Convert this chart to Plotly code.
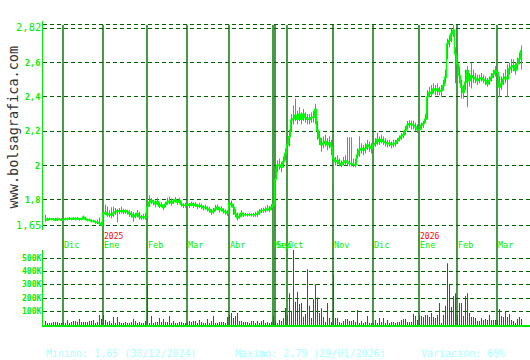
import plotly.graph_objects as go

# ---------------- data ----------------
# one value per trading day, Nov-2024 ... Mar-2026 (May..Sep 2025 gap)
close = [
    # Nov 2024
    1.688, 1.682, 1.688, 1.688, 1.686, 1.682, 1.688, 1.686, 1.682,
    # Dec 2024
    1.684, 1.688, 1.688, 1.692, 1.688, 1.692, 1.688, 1.692, 1.686, 1.688,
    1.698, 1.688, 1.682, 1.682, 1.676, 1.676, 1.670, 1.668, 1.662, 1.652,
    # Jan 2025
    1.720, 1.726, 1.712, 1.716, 1.710, 1.722, 1.730, 1.736, 1.732, 1.736, 1.730,
    1.736, 1.730, 1.720, 1.714, 1.700, 1.710, 1.720, 1.702, 1.696, 1.700, 1.696,
    # Feb 2025
    1.760, 1.786, 1.796, 1.786, 1.776, 1.790, 1.763, 1.770, 1.755, 1.775,
    1.786, 1.792, 1.780, 1.792, 1.800, 1.786, 1.796, 1.773, 1.767, 1.767,
    # Mar 2025
    1.773, 1.767, 1.777, 1.767, 1.773, 1.761, 1.767, 1.761, 1.753, 1.757, 1.747,
    1.742, 1.728, 1.734, 1.747, 1.757, 1.742, 1.747, 1.734, 1.728, 1.722,
    # Apr 2025
    1.780, 1.773, 1.757, 1.718, 1.695, 1.703, 1.722, 1.712, 1.714, 1.712, 1.714,
    1.712, 1.712, 1.714, 1.718, 1.728, 1.738, 1.738, 1.742, 1.747, 1.742, 1.757,
    # May 2025
    1.770,
    # Sep 2025
    1.920, 2.000, 2.004, 1.990, 2.023, 2.070,
    # Oct 2025
    2.120, 2.168, 2.265, 2.274, 2.294, 2.270, 2.300, 2.270, 2.300, 2.280, 2.270, 2.268,
    2.280, 2.282, 2.327, 2.207, 2.160, 2.120, 2.130, 2.140, 2.120, 2.133, 2.110,
    # Nov 2025
    2.040, 2.023, 2.030, 2.013, 2.004, 2.017, 2.027, 2.020, 2.013, 2.010,
    2.004, 2.004, 2.062, 2.090, 2.100, 2.090, 2.100, 2.120, 2.110, 2.100,
    # Dec 2025
    2.120, 2.130, 2.153, 2.140, 2.153, 2.140, 2.133, 2.126, 2.130, 2.120, 2.126, 2.130,
    2.145, 2.158, 2.172, 2.178, 2.207, 2.236, 2.245, 2.240, 2.236, 2.226, 2.210,
    # Jan 2026
    2.210, 2.236, 2.245, 2.270, 2.400, 2.427, 2.420, 2.447, 2.437, 2.447,
    2.433, 2.437, 2.466, 2.515, 2.710, 2.730, 2.770, 2.790, 2.650,
    # Feb 2026
    2.593, 2.525, 2.457, 2.427, 2.486, 2.554, 2.496, 2.525, 2.515, 2.505,
    2.496, 2.505, 2.511, 2.500, 2.496, 2.476, 2.496, 2.515, 2.535, 2.554,
    # Mar 2026
    2.544, 2.457, 2.476, 2.505, 2.515, 2.505, 2.564, 2.574, 2.583, 2.554, 2.593, 2.622, 2.671,
]

high = [
    1.712, 1.696, 1.696, 1.694, 1.694, 1.694, 1.696, 1.694, 1.694,
    1.692, 1.696, 1.696, 1.700, 1.696, 1.700, 1.698, 1.700, 1.694, 1.694,
    1.708, 1.700, 1.690, 1.690, 1.686, 1.684, 1.680, 1.684, 1.696, 1.672,
    1.746, 1.772, 1.762, 1.740, 1.756, 1.760, 1.752, 1.746, 1.752, 1.760, 1.748,
    1.744, 1.742, 1.738, 1.734, 1.728, 1.724, 1.740, 1.730, 1.712, 1.718, 1.724,
    2.000, 1.826, 1.810, 1.800, 1.796, 1.812, 1.784, 1.786, 1.772, 1.788,
    1.812, 1.818, 1.808, 1.804, 1.816, 1.800, 1.812, 1.790, 1.780, 1.782,
    1.790, 1.782, 1.790, 1.784, 1.786, 1.776, 1.782, 1.778, 1.768, 1.772, 1.762,
    1.758, 1.746, 1.752, 1.770, 1.772, 1.758, 1.762, 1.750, 1.744, 1.740,
    1.830, 1.796, 1.776, 1.746, 1.726, 1.720, 1.740, 1.726, 1.724, 1.722, 1.722,
    1.722, 1.724, 1.730, 1.736, 1.746, 1.752, 1.754, 1.760, 1.770, 1.764, 1.776,
    1.790,
    1.930, 2.030, 2.040, 2.020, 2.053, 2.100,
    2.150, 2.210, 2.300, 2.350, 2.390, 2.320, 2.340, 2.310, 2.330, 2.310, 2.300, 2.300,
    2.310, 2.320, 2.360, 2.260, 2.200, 2.160, 2.170, 2.180, 2.160, 2.170, 2.150,
    2.110, 2.050, 2.060, 2.040, 2.030, 2.050, 2.060, 2.165, 2.165, 2.165,
    2.040, 2.040, 2.100, 2.170, 2.130, 2.120, 2.130, 2.150, 2.140, 2.130,
    2.150, 2.160, 2.190, 2.170, 2.180, 2.170, 2.160, 2.150, 2.150, 2.140, 2.150, 2.150,
    2.160, 2.175, 2.190, 2.200, 2.230, 2.260, 2.265, 2.262, 2.262, 2.250, 2.240,
    2.230, 2.250, 2.260, 2.300, 2.440, 2.460, 2.470, 2.480, 2.470, 2.480,
    2.460, 2.470, 2.500, 2.560, 2.740, 2.760, 2.800, 2.820, 2.690,
    2.640, 2.580, 2.500, 2.470, 2.560, 2.580, 2.540, 2.600, 2.560, 2.540,
    2.530, 2.530, 2.540, 2.530, 2.520, 2.510, 2.520, 2.540, 2.560, 2.580,
    2.570, 2.520, 2.520, 2.540, 2.560, 2.590, 2.600, 2.620, 2.620, 2.600, 2.630, 2.660, 2.700,
]

low = [
    1.672, 1.676, 1.680, 1.680, 1.678, 1.676, 1.676, 1.680, 1.676,
    1.676, 1.680, 1.680, 1.682, 1.680, 1.682, 1.680, 1.684, 1.678, 1.680,
    1.684, 1.680, 1.674, 1.674, 1.668, 1.668, 1.660, 1.658, 1.655, 1.650,
    1.700, 1.712, 1.700, 1.698, 1.692, 1.700, 1.712, 1.668, 1.716, 1.720, 1.716,
    1.718, 1.714, 1.700, 1.696, 1.672, 1.692, 1.698, 1.684, 1.684, 1.686, 1.684,
    1.700, 1.760, 1.776, 1.768, 1.756, 1.768, 1.752, 1.756, 1.740, 1.758,
    1.770, 1.774, 1.766, 1.776, 1.784, 1.770, 1.778, 1.760, 1.752, 1.754,
    1.760, 1.752, 1.762, 1.752, 1.758, 1.746, 1.752, 1.746, 1.738, 1.742, 1.732,
    1.726, 1.712, 1.718, 1.732, 1.740, 1.726, 1.732, 1.720, 1.712, 1.706,
    1.740, 1.756, 1.712, 1.700, 1.680, 1.690, 1.700, 1.700, 1.704, 1.702, 1.704,
    1.702, 1.700, 1.700, 1.700, 1.712, 1.722, 1.724, 1.726, 1.732, 1.728, 1.740,
    1.600,
    1.760, 1.960, 1.975, 1.960, 1.990, 2.030,
    2.090, 2.110, 2.200, 2.240, 2.260, 2.240, 2.260, 2.240, 2.260, 2.250, 2.240, 2.240,
    2.250, 2.250, 2.240, 2.150, 2.120, 2.080, 2.100, 2.110, 2.090, 2.100, 2.060,
    1.890, 2.000, 2.005, 1.995, 1.990, 2.000, 2.005, 2.000, 1.995, 1.995,
    1.990, 1.990, 2.040, 2.050, 2.070, 2.060, 2.070, 2.090, 2.080, 2.070,
    2.100, 2.110, 2.120, 2.120, 2.130, 2.120, 2.110, 2.105, 2.110, 2.100, 2.105, 2.110,
    2.125, 2.140, 2.150, 2.160, 2.180, 2.210, 2.220, 2.210, 2.210, 2.200, 2.190,
    2.190, 2.210, 2.220, 2.250, 2.270, 2.400, 2.400, 2.420, 2.410, 2.410,
    2.410, 2.400, 2.440, 2.480, 2.620, 2.690, 2.720, 2.750, 2.480,
    2.460, 2.480, 2.390, 2.390, 2.440, 2.340, 2.460, 2.450, 2.480, 2.480,
    2.470, 2.480, 2.490, 2.480, 2.470, 2.460, 2.470, 2.490, 2.510, 2.520,
    2.520, 2.400, 2.440, 2.470, 2.480, 2.400, 2.530, 2.540, 2.550, 2.530, 2.560, 2.590, 2.560,
]

volume_k = [
    30, 15, 15, 17, 22, 22, 22, 15, 15,
    20, 15, 35, 15, 22, 30, 30, 25, 45, 22, 22, 22, 22, 30, 30, 37, 15, 22, 75, 45,
    75, 37, 22, 30, 15, 60, 15, 60, 22, 15, 15, 22, 8, 15, 22, 45, 30, 15, 22, 15, 15, 30,
    300, 15, 67, 15, 22, 22, 52, 22, 45, 22, 22, 67, 15, 30, 15, 15, 22, 22, 15, 15,
    22, 30, 22, 30, 30, 8, 37, 22, 15, 15, 45, 15, 30, 67, 8, 15, 22, 22, 22, 8, 60,
    75, 90, 52, 67, 90, 30, 30, 22, 22, 22, 15, 30, 30, 15, 30, 15, 30, 37, 15, 22, 8, 22,
    67,
    30, 15, 37, 30, 52, 127,
    75, 238, 107, 565, 174, 248, 156, 164, 62, 82, 417, 144, 52, 193, 305, 206, 89, 126, 60, 22, 164, 52, 22,
    380, 52, 52, 22, 8, 30, 45, 45, 30, 30, 37, 22, 112, 8, 30, 15, 22, 67, 15, 15,
    15, 37, 15, 52, 22, 52, 15, 37, 15, 22, 22, 15, 22, 22, 37, 45, 45, 22, 22, 22, 82, 67, 37,
    75, 67, 60, 75, 75, 60, 89, 60, 52, 75, 164, 8, 75, 144, 461, 298, 134, 216, 238,
    75, 164, 164, 67, 216, 238, 89, 60, 60, 52, 30, 30, 52, 37, 45, 37, 75, 37, 37, 37,
    37, 119, 67, 60, 97, 60, 82, 37, 30, 15, 45, 60, 45,
]

month_labels = ["Dic", "Ene", "Feb", "Mar", "Abr", "May", "Sep", "Oct", "Nov", "Dic", "Ene", "Feb", "Mar"]
month_start = [9, 29, 51, 71, 92, 114, 115, 121, 144, 164, 187, 206, 226]
year_labels = ["2025", "2026"]
year_start = [29, 187]

price_grid = [1.65, 1.8, 2.0, 2.2, 2.4, 2.6, 2.8, 2.82]
price_ticks = [1.8, 2.0, 2.2, 2.4, 2.6]
price_tick_text = ["1,8", "2", "2,2", "2,4", "2,6"]
price_extreme = [1.65, 2.82]
price_extreme_text = ["1,65", "2,82"]
vol_ticks = [100000, 200000, 300000, 400000, 500000]
vol_tick_text = ["100K", "200K", "300K", "400K", "500K"]
footer_text = ["Minimo: 1,65 (30/12/2024)", "Maximo: 2,79 (29/01/2026)", "Variación: 69%"]
watermark = "www.bolsagrafica.com"

# ---------------- build ----------------
N = min(len(close), len(high), len(low), len(volume_k))
idx = list(range(N))
W, H = 530, 360
ML = 43
PW = W - ML


def py(p):  # pixel row -> paper y
    return 1 - p / H


def px(p):  # pixel column -> paper x
    return (p - ML) / PW


MONO = "DejaVu Sans Mono"
LIME = "#00ee00"
DKGREEN = "#1a7f1a"
GRID = "#006000"

hl_x, hl_y = [], []
for i in range(N):
    hl_x += [i, i, None]
    hl_y += [low[i], high[i], None]

fig = go.Figure()
fig.add_trace(go.Bar(x=idx, y=[v * 1000 for v in volume_k[:N]], xaxis="x2", yaxis="y2",
                     marker=dict(color="#ff0000", line=dict(width=0, color="#ff0000")),
                     width=0.5, opacity=1))
fig.add_trace(go.Scatter(x=hl_x, y=hl_y, mode="lines", line=dict(color="#1ea8c0", width=1),
                         hoverinfo="skip"))
fig.add_trace(go.Scatter(x=idx, y=close[:N], mode="lines",
                         line=dict(color="#00ff00", width=1.3, shape="hvh")))

shapes = []
for m in month_start:
    shapes.append(dict(type="line", xref="x", yref="paper", x0=m - 0.25, x1=m - 0.25,
                       y0=py(326), y1=py(25), line=dict(color=DKGREEN, width=1.6),
                       layer="between"))

ann = []
for lab, m in zip(month_labels, month_start):
    ann.append(dict(x=m - 0.25, xref="x", y=py(244.5), yref="paper", text=lab, showarrow=False,
                    xanchor="left", yanchor="middle", borderpad=0,
                    font=dict(family=MONO, size=8.5, color=LIME)))
for lab, m in zip(year_labels, year_start):
    ann.append(dict(x=m - 0.25, xref="x", y=py(236), yref="paper", text=lab, showarrow=False,
                    xanchor="left", yanchor="middle", borderpad=0,
                    font=dict(family=MONO, size=8, color="#ff0000")))
for v, t in zip(price_ticks, price_tick_text):
    ann.append(dict(x=px(40.5), xref="paper", y=v, yref="y", text="<b>" + t + "</b>",
                    showarrow=False, xanchor="right", yanchor="middle", borderpad=0,
                    font=dict(family=MONO, size=8.5, color=LIME)))
for v, t, ys in zip(price_extreme, price_extreme_text, [0, -2.5]):
    ann.append(dict(x=px(42), xref="paper", y=v, yref="y", text=t, yshift=ys,
                    showarrow=False, xanchor="right", yanchor="middle", borderpad=0,
                    font=dict(family=MONO, size=10.5, color=LIME)))
for v, t in zip(vol_ticks, vol_tick_text):
    ann.append(dict(x=px(41.5), xref="paper", y=v, yref="y2", text="<b>" + t + "</b>",
                    showarrow=False, xanchor="right", yanchor="middle", borderpad=0,
                    font=dict(family=MONO, size=8, color=LIME)))
for t, xp in zip(footer_text, [45, 234, 420]):
    ann.append(dict(x=px(xp), xref="paper", y=py(353), yref="paper", text=t,
                    showarrow=False, xanchor="left", yanchor="middle", borderpad=0,
                    font=dict(family=MONO, size=10, color="#aaffff")))
ann.append(dict(x=px(12.5), xref="paper", y=py(127), yref="paper", text=watermark,
                showarrow=False, textangle=-90, xanchor="center", yanchor="middle",
                font=dict(family=MONO, size=13.5, color="#333333")))

fig.update_layout(
    width=W, height=H, margin=dict(l=ML, r=0, t=0, b=0),
    paper_bgcolor="white", plot_bgcolor="white", showlegend=False,
    xaxis=dict(domain=[0, 1], range=[-1.25, 242.25], anchor="y", showgrid=False,
               zeroline=False, showticklabels=False, ticks=""),
    yaxis=dict(domain=[py(230), py(21)], range=[1.6237, 2.8433], tickvals=price_grid,
               showticklabels=False, ticks="", showgrid=True, gridcolor=GRID,
               griddash="4px,3px", gridwidth=1, zeroline=False,
               showline=True, linecolor=LIME, linewidth=1),
    xaxis2=dict(matches="x", anchor="y2", showgrid=False, zeroline=False,
                showticklabels=False, ticks="", showline=True, linecolor=LIME, linewidth=2),
    yaxis2=dict(domain=[py(325), py(250)], range=[0, 560000], tickvals=vol_ticks,
                showticklabels=False, ticks="", showgrid=True, gridcolor=GRID,
                griddash="4px,3px", gridwidth=1, zeroline=False,
                showline=True, linecolor=LIME, linewidth=1),
    shapes=shapes, annotations=ann,
)

fig.write_html("out.html")
